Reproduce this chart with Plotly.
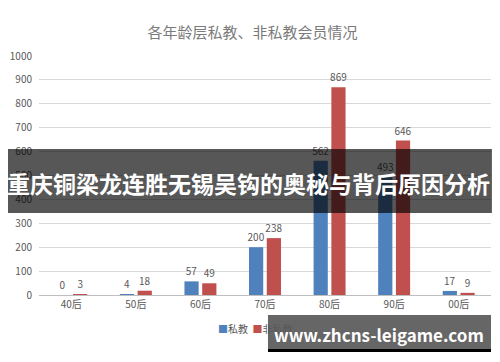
import plotly.graph_objects as go

# Member counts by birth decade
categories = ["40后", "50后", "60后", "70后", "80后", "90后", "00后"]
private_coach = [0, 4, 57, 200, 562, 493, 17]
non_private = [3, 18, 49, 238, 869, 646, 9]
series_names = ["私教", "非私教"]
series_colors = ["#4F81BD", "#C0504D"]
y_ticks = [0, 100, 200, 300, 400, 500, 600, 700, 800, 900, 1000]

title_text = "各年龄层私教、非私教会员情况"
banner_text = "重庆铜梁龙连胜无锡吴钩的奥秘与背后原因分析"
site_text = "www.zhcns-leigame.com"

FONT = "Noto Sans CJK SC"
LABEL_GRAY = "#595959"

fig = go.Figure()
for name, vals, color in zip(series_names, [private_coach, non_private], series_colors):
    fig.add_trace(go.Bar(
        x=categories, y=vals, name=name,
        marker=dict(color=color, line=dict(width=0)),
        text=vals, textposition="outside", constraintext="none",
        textfont=dict(family=FONT, size=10, color=LABEL_GRAY),
        cliponaxis=False, showlegend=False,
    ))

fig.update_layout(
    width=500, height=362,
    margin=dict(l=39, r=9, t=56, b=67),
    paper_bgcolor="white", plot_bgcolor="white",
    barmode="group", bargap=0.45, bargroupgap=0.2,
    font=dict(family=FONT, size=10, color=LABEL_GRAY),
    title=dict(text=title_text, x=0.505, xanchor="center", y=0.91, yanchor="middle",
               font=dict(family=FONT, size=15, color="#7a7a7a")),
    xaxis=dict(showgrid=False, showline=True, linecolor="#BFBFBF", linewidth=1,
               ticks="", tickfont=dict(size=10, color=LABEL_GRAY)),
    yaxis=dict(range=[0, 1000], tickvals=y_ticks, showgrid=True, gridcolor="#D9D9D9",
               gridwidth=1, zeroline=False, ticks="", ticklabelstandoff=6,
               tickfont=dict(size=10, color=LABEL_GRAY)),
)

# Compact legend: coloured square followed by series name
legend_html = "  ".join(
    f'<span style="color:{c}">■</span>{n}' for n, c in zip(series_names, series_colors)
)
fig.add_annotation(text=legend_html, xref="paper", yref="paper",
                   x=0.478, y=-0.142, xanchor="center", yanchor="middle",
                   showarrow=False, font=dict(family=FONT, size=10, color=LABEL_GRAY))

# Dark headline banner across the middle of the chart
fig.add_shape(type="rect", xref="paper", yref="paper",
              x0=-0.0686, x1=1.002, y0=0.343, y1=0.611,
              fillcolor="rgba(0,0,0,0.66)", line=dict(width=0), layer="above")
fig.add_annotation(text=banner_text, xref="paper", yref="paper",
                   x=0.4646, y=0.4686, xanchor="center", yanchor="middle",
                   showarrow=False,
                   font=dict(family=FONT, size=23, color="white", weight="bold"))

# Site tag in the lower right corner
fig.add_shape(type="rect", xref="paper", yref="paper",
              x0=0.5066, x1=1.0, y0=-0.226, y1=-0.0837,
              fillcolor="rgba(0,0,0,0.6)", line=dict(width=0), layer="above")
fig.add_shape(type="rect", xref="paper", yref="paper",
              x0=0.5066, x1=1.0, y0=-0.2385, y1=-0.226,
              fillcolor="black", line=dict(width=0), layer="above")
fig.add_annotation(text=site_text, xref="paper", yref="paper",
                   x=0.752, y=-0.167, xanchor="center", yanchor="middle",
                   showarrow=False,
                   font=dict(family=FONT, size=17, color="white", weight="bold"))

fig.write_html("out.html")
